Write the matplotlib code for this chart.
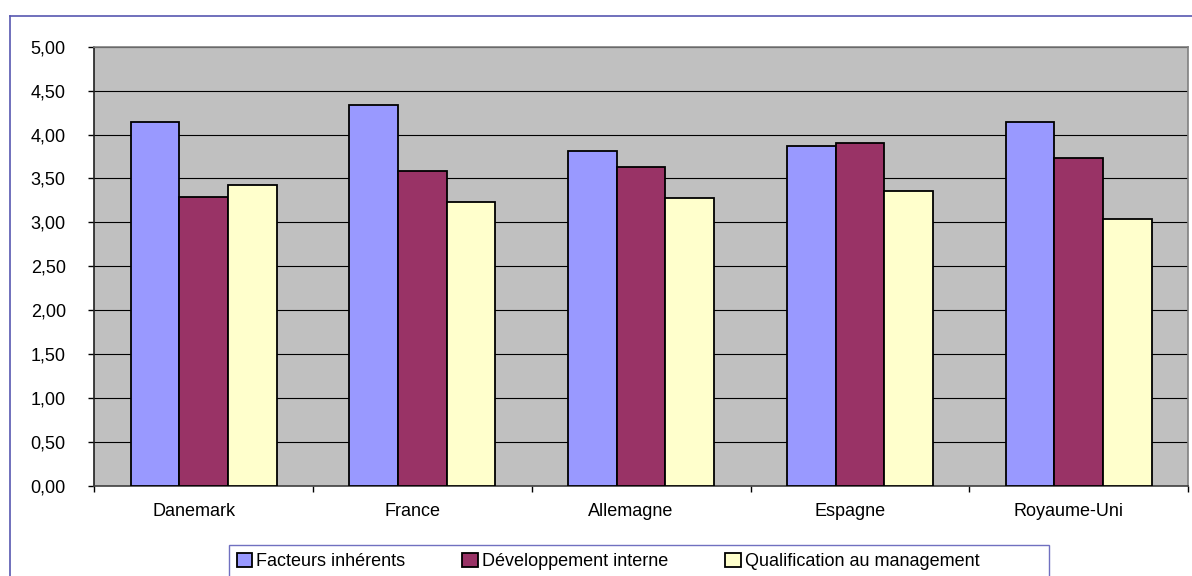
import numpy as np
import matplotlib
matplotlib.use("Agg")
import matplotlib.pyplot as plt
from matplotlib.lines import Line2D
from matplotlib.patches import Rectangle
from matplotlib.transforms import ScaledTranslation

plt.rcParams['font.family'] = ['Liberation Sans', 'DejaVu Sans']

countries = ['Danemark', 'France', 'Allemagne', 'Espagne', 'Royaume-Uni']
series_names = ['Facteurs inhérents', 'Développement interne', 'Qualification au management']
facteurs = [4.14, 4.34, 3.81, 3.87, 4.14]
developpement = [3.29, 3.59, 3.63, 3.90, 3.73]
qualification = [3.43, 3.23, 3.28, 3.36, 3.04]
y_ticks = [0.0, 0.5, 1.0, 1.5, 2.0, 2.5, 3.0, 3.5, 4.0, 4.5, 5.0]
y_tick_labels = ['0,00', '0,50', '1,00', '1,50', '2,00', '2,50', '3,00', '3,50', '4,00', '4,50', '5,00']

colors = ['#9999FF', '#993366', '#FFFFCC']

W, H = 1192, 576
fig = plt.figure(figsize=(W / 100, H / 100), dpi=100)
ax = fig.add_axes([94.3 / W, 1 - 486 / H, (1188 - 94.3) / W, (486 - 46.7) / H])
ax.set_facecolor('#C0C0C0')

x = np.arange(len(countries))
w = 1 / 4.5
for i, (vals, name) in enumerate(zip([facteurs, developpement, qualification], series_names)):
    ax.bar(x + (i - 1) * w, vals, w, color=colors[i], edgecolor='black',
           linewidth=1.3, label=name, zorder=3)

ax.set_xlim(-0.5, len(countries) - 0.5)
ax.set_ylim(0, 5)
ax.set_yticks(y_ticks)
ax.set_yticklabels(y_tick_labels, fontsize=13)
ax.yaxis.grid(True, color='black', linewidth=0.8, zorder=1)
ax.set_axisbelow(True)

ax.set_xticks(x)
ax.set_xticklabels(countries, fontsize=13)
ax.set_xticks(np.arange(-0.5, len(countries)), minor=True)
ax.tick_params(axis='x', which='major', length=0, pad=12)
ax.tick_params(axis='x', which='minor', length=4.5, width=1, direction='out')
ax.tick_params(axis='y', length=4.5, width=1, direction='out', pad=16)
for lab in ax.get_xticklabels():
    lab.set_transform(lab.get_transform() + ScaledTranslation(-0.1, 0, fig.dpi_scale_trans))

ax.spines['left'].set_color('#202020')
ax.spines['bottom'].set_color('#404040')
ax.spines['top'].set_color('#808080')
ax.spines['right'].set_color('#808080')
for s in ax.spines.values():
    s.set_linewidth(1.2)

# legend entries without frame, frame drawn separately (wider than content, cut at bottom)
leg = fig.legend(loc='upper left', bbox_to_anchor=(229.3 / W, 1 - 545.3 / H),
                 ncol=3, fontsize=13, frameon=False,
                 handlelength=0.85, handleheight=0.85, handletextpad=0.25,
                 columnspacing=3.15, borderpad=0.4, borderaxespad=0)
fig.add_artist(Rectangle((229.3 / W, -0.05), (1049.3 - 229.3) / W, 0.05 + 1 - 545.3 / H,
                         transform=fig.transFigure, facecolor='none',
                         edgecolor='#7070C0', linewidth=1))

# outer chart frame (left and top edges only, rest is cropped)
fig.add_artist(Line2D([9.5 / W, 9.5 / W], [0, 1 - 16 / H], color='#5858B0', linewidth=1.2))
fig.add_artist(Line2D([9.5 / W, 1], [1 - 16 / H, 1 - 16 / H], color='#5858B0', linewidth=1.2))

fig.savefig('out.png', dpi=100)
